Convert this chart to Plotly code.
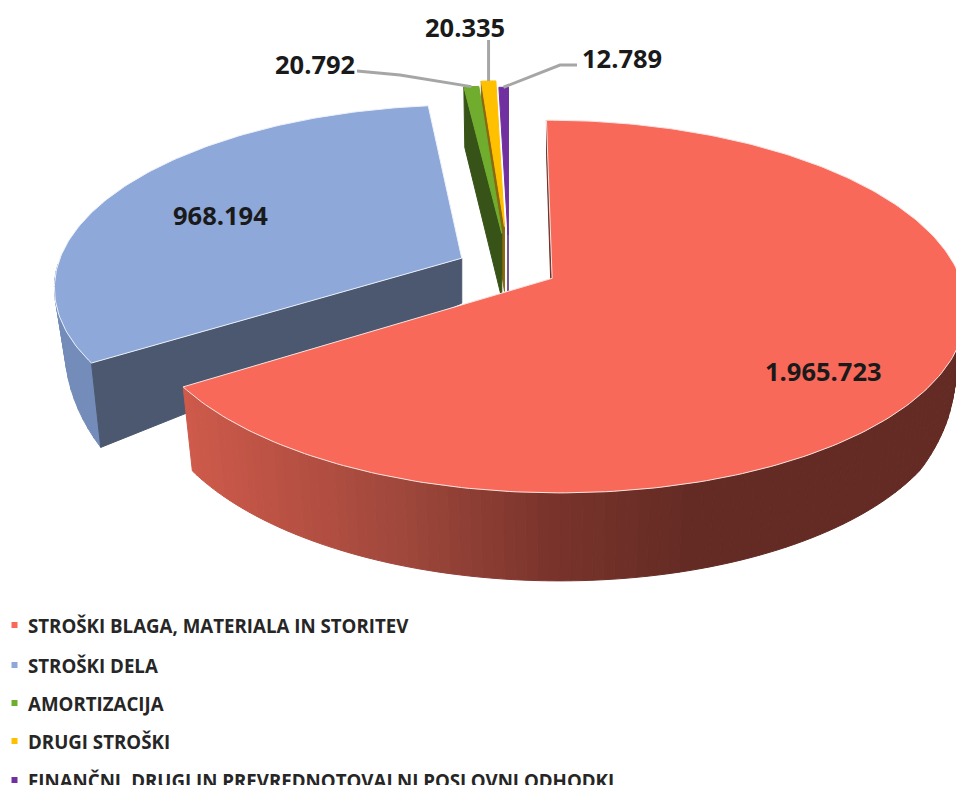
import numpy as np
import plotly.graph_objects as go

categories = ["STROŠKI BLAGA, MATERIALA IN STORITEV", "STROŠKI DELA", "AMORTIZACIJA",
              "DRUGI STROŠKI", "FINANČNI, DRUGI IN PREVREDNOTOVALNI POSLOVNI ODHODKI"]
values = [1965723, 968194, 20792, 20335, 12789]
value_labels = ["1.965.723", "968.194", "20.792", "20.335", "12.789"]
top_colors = ["#F8695A", "#8DA8D9", "#70AD2F", "#FFC000", "#7030A0"]
cut_colors = ["#6E3028", "#4B5870", "#375317", "#8A6A10", "#4A2170"]
explode = [0.12, 0.13, 0.20, 0.24, 0.19]

W, H = 956, 785
OX, OY, RX, RY, K = 509.0, 268.0, 405.0, 179.0, 0.15
SHRINK = 0.975

frac = np.array(values, float) / sum(values)
edges = np.concatenate([[0], np.cumsum(frac)]) * 2 * np.pi
mids = (edges[:-1] + edges[1:]) / 2


def project(wx, wy):
    w = 1 + K * wy
    return OX + RX * wx / w, OY - RY * wy / w


def thick(i, wy):
    if i == 0:
        return np.interp(wy, [-1.056, -0.6, -0.42, -0.1, 1.0], [88, 84, 72, 45, 35])
    if i == 1:
        return np.interp(wy, [-0.5, 0.05, 1.2], [85, 45, 45])
    return np.interp(wy, [0.2, 1.3], [65, 60])


def apex_world(i):
    return explode[i] * np.sin(mids[i]), explode[i] * np.cos(mids[i])


def rim(i, th):
    ax, ay = apex_world(i)
    return ax + np.sin(th), ay + np.cos(th)


def bottom_pt(i, wx, wy):
    ax, ay = apex_world(i)
    axs, _ = project(ax, ay)
    sx, sy = project(wx, wy)
    return axs + (sx - axs) * SHRINK, sy + thick(i, wy)


fig = go.Figure()


def poly(xs, ys, fill, line=None, lw=1):
    fig.add_trace(go.Scatter(x=list(xs) + [xs[0]], y=list(ys) + [ys[0]], mode="lines", fill="toself",
                             fillcolor=fill, line=dict(color=line or fill, width=lw),
                             hoverinfo="skip", showlegend=False))


def top_face(i):
    ths = np.linspace(edges[i], edges[i + 1], max(3, int((edges[i + 1] - edges[i]) * 60)))
    wx, wy = rim(i, ths)
    sx, sy = project(wx, wy)
    ax, ay = project(*apex_world(i))
    return np.r_[ax, sx], np.r_[ay, sy]


def cut_face(i, th):
    ax, ay = apex_world(i)
    rx, ry = rim(i, th)
    a = project(ax, ay)
    r = project(rx, ry)
    rb = bottom_pt(i, rx, ry)
    ab = bottom_pt(i, ax, ay)
    poly([a[0], r[0], rb[0], ab[0]], [a[1], r[1], rb[1], ab[1]], cut_colors[i])


def wall_color_red(x):
    xs = [190, 400, 550, 700]
    rgb = [np.interp(x, xs, c) for c in ([205, 160, 122, 99], [90, 72, 52, 43], [75, 60, 44, 36])]
    return "rgb(%d,%d,%d)" % tuple(rgb)


def wall(i, th0, th1, n, colorf):
    ths = np.linspace(th0, th1, n + 1)
    for a, b in zip(ths[:-1], ths[1:]):
        pts = np.linspace(a, b, 3)
        wx, wy = rim(i, pts)
        tx, ty = project(wx, wy)
        bx, by = bottom_pt(i, wx, wy)
        poly(list(tx) + list(bx[::-1]), list(ty) + list(by[::-1]), colorf(tx.mean()))


# small slices, back to front
cut_face(3, edges[3])
cut_face(2, edges[2])
poly(*top_face(2), top_colors[2])
poly(*top_face(3), top_colors[3])
cut_face(4, edges[5])
poly(*top_face(4), top_colors[4])

# blue slice
wall(1, edges[1], np.radians(268), 14, lambda x: "#738CB9")
cut_face(1, edges[1])
poly(*top_face(1), top_colors[1], "#EEF2FA")

# red slice
cut_face(0, edges[0])
wall(0, np.radians(88), edges[1], 110, wall_color_red)
poly(*top_face(0), top_colors[0], "#FBE4E0")

# leader lines
leader_ends = {2: ([400, 357], [75, 71]), 3: ([None], [40]), 4: ([560, 577], [65, 65])}
for i, (lx, ly) in leader_ends.items():
    p = project(*rim(i, mids[i]))
    lx = [p[0] if v is None else v for v in lx]
    fig.add_trace(go.Scatter(x=[p[0]] + lx, y=[p[1]] + ly, mode="lines",
                             line=dict(color="#A6A6A6", width=3), hoverinfo="skip", showlegend=False))

# legend markers
legend_y = [625, 665, 703, 741, 780]
for c, y in zip(top_colors, legend_y):
    fig.add_trace(go.Scatter(x=[14.5], y=[y], mode="markers", hoverinfo="skip", showlegend=False,
                             marker=dict(symbol="square", size=6, color=c)))

label_pos = [(823, 371), (220, 215), (315, 64), (465, 27), (622, 58)]
ann = [dict(x=x, y=y, text="<b>%s</b>" % t, showarrow=False, xref="x", yref="y",
            font=dict(family="Open Sans", size=25.5, color="#1A1A1A"))
       for t, (x, y) in zip(value_labels, label_pos)]
ann += [dict(x=26, y=y, text="<b>%s</b>" % t, showarrow=False, xanchor="left", xref="x", yref="y",
             font=dict(family="Open Sans", size=18.7, color="#262626"))
        for t, y in zip(categories, legend_y)]

fig.update_layout(width=W, height=H, margin=dict(l=0, r=0, t=0, b=0), paper_bgcolor="white",
                  plot_bgcolor="white", showlegend=False, annotations=ann,
                  xaxis=dict(range=[0, W], visible=False, fixedrange=True),
                  yaxis=dict(range=[H, 0], visible=False, fixedrange=True))
fig.write_html("out.html", config={"displayModeBar": False},
               post_script="document.body.style.margin='0';document.body.style.overflow='hidden';")
